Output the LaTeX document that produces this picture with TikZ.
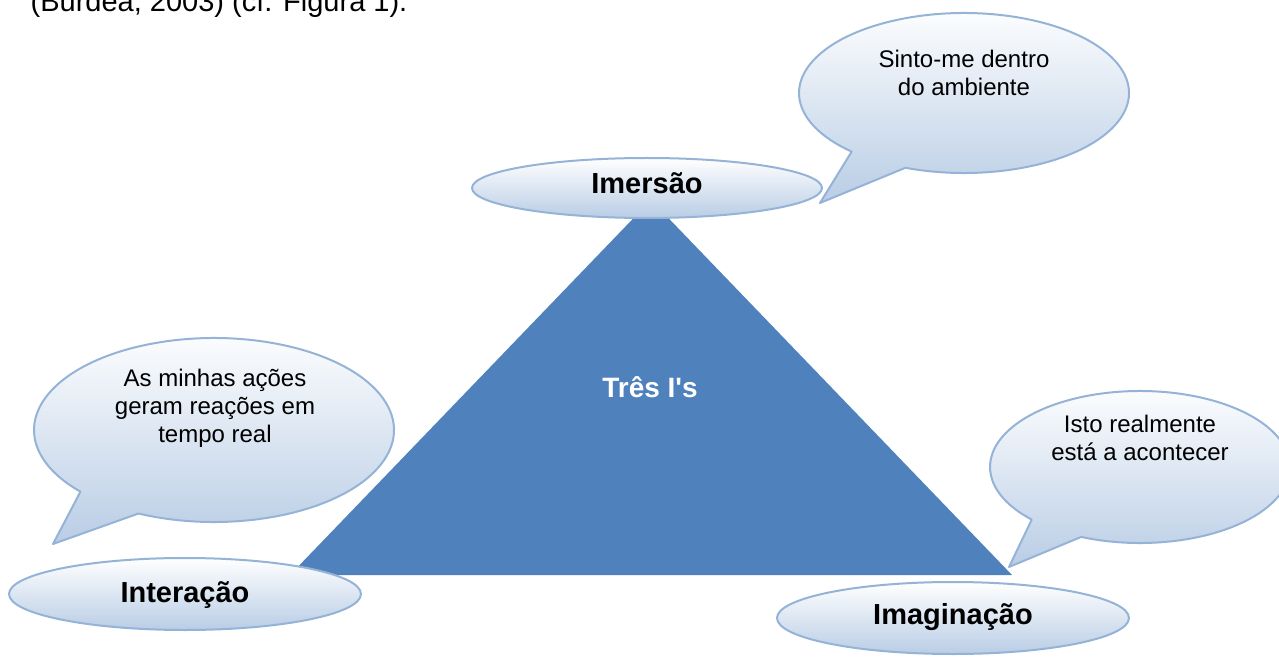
\documentclass[tikz,border=0pt]{standalone}
\usepackage{fontspec}
\setmainfont{Liberation Sans}
\newfontfamily\plainsans{Liberation Sans}
\usetikzlibrary{shapes.geometric,calc}
\definecolor{triblue}{HTML}{4F81BD}
\definecolor{edgeblue}{HTML}{95B3D7}
\definecolor{fillbot}{HTML}{B9CDE5}
\tikzset{
  bubble/.style={draw=edgeblue, line width=2pt, top color=white, bottom color=fillbot, line join=round},
  oval/.style={ellipse, bubble, inner sep=0pt},
  boldlbl/.style={font=\fontsize{29}{34}\selectfont\bfseries, inner sep=0pt},
  txt/.style={font=\fontsize{24}{28}\selectfont, align=center, inner sep=0pt},
}
\begin{document}
\begin{tikzpicture}[x=1pt,y=1pt]
\useasboundingbox (0,0) rectangle (1279,657);
\clip (0,0) rectangle (1279,657);
% citation line (cut off at the top)
\node[anchor=base west, inner sep=0pt, font=\fontsize{29}{34}\selectfont] (cite) at (30.5,645.5) {(Burdea, 2003) (cf. Figura 1).};
% triangle
\coordinate (apex) at (651,457);
\coordinate (bl) at (290,82);
\coordinate (br) at (1012,82);
\fill[triblue] (apex) -- (br) -- (bl) -- cycle;
\node[inner sep=0pt, font=\plainsans\fontsize{28}{33}\selectfont\bfseries, text=white] (tres) at (650,270) {Três I's};
% callouts
\coordinate (c1) at (964,564);
\coordinate (tip1) at (820,454);
\path[bubble] ($(c1)+(249.2:165 and 80)$) arc[start angle=249.2, end angle=587.1, x radius=165, y radius=80] -- (tip1) -- cycle;
\node[txt] (t1) at (964,584) {Sinto-me dentro\\do ambiente};
\coordinate (c2) at (214,227);
\coordinate (tip2) at (53,113);
\path[bubble] ($(c2)+(245.2:180 and 92)$) arc[start angle=245.2, end angle=582.1, x radius=180, y radius=92] -- (tip2) -- cycle;
\node[txt] (t2) at (215,249) {As minhas ações\\geram reações em\\tempo real};
\coordinate (c3) at (1140,190);
\coordinate (tip3) at (1009,90);
\path[bubble] ($(c3)+(246.9:150 and 76)$) arc[start angle=246.9, end angle=583.8, x radius=150, y radius=76] -- (tip3) -- cycle;
\node[txt] (t3) at (1140,219.5) {Isto realmente\\está a acontecer};
% ovals
\node[oval, minimum width=350pt, minimum height=60pt] (imersao) at (647,469) {};
\node[boldlbl] (imersaoT) at (647,474) {Imersão};
\node[oval, minimum width=352pt, minimum height=72pt] (interacao) at (185,63) {};
\node[boldlbl] (interacaoT) at (185,62) {Interação};
\node[oval, minimum width=352pt, minimum height=72pt] (imaginacao) at (953,39) {};
\node[boldlbl] (imaginacaoT) at (953,40) {Imaginação};
\end{tikzpicture}
\end{document}
